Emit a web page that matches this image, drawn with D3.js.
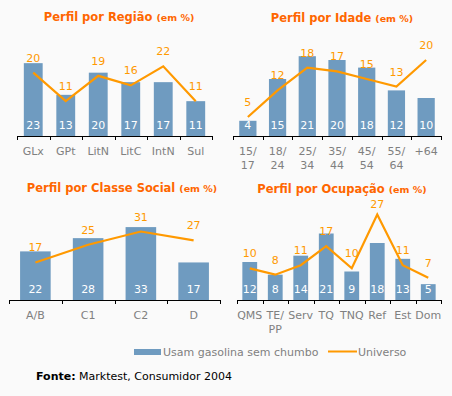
<!DOCTYPE html>
<html>
<head>
<meta charset="utf-8">
<script src="https://cdn.jsdelivr.net/npm/d3@7"></script>
<style>
  body { margin: 0; background: #fafafa; }
  svg { display: block; font-family: "DejaVu Sans", Verdana, sans-serif; }
</style>
</head>
<body>
<svg id="chart" width="452" height="396"></svg>
<script>
// data
var regiaoCats = ['GLx', 'GPt', 'LitN', 'LitC', 'IntN', 'Sul']
var regiaoGasolina = [23, 13, 20, 17, 17, 11]
var regiaoUniverso = [20, 11, 19, 16, 22, 11]

var idadeCats = ['15/\n17', '18/\n24', '25/\n34', '35/\n44', '45/\n54', '55/\n64', '+64']
var idadeGasolina = [4, 15, 21, 20, 18, 12, 10]
var idadeUniverso = [5, 12, 18, 17, 15, 13, 20]

var classeCats = ['A/B', 'C1', 'C2', 'D']
var classeGasolina = [22, 28, 33, 17]
var classeUniverso = [17, 25, 31, 27]

var ocupCats = ['QMS', 'TE/\nPP', 'Serv', 'TQ', 'TNQ', 'Ref', 'Est', 'Dom']
var ocupGasolina = [12, 8, 14, 21, 9, 18, 13, 5]
var ocupUniverso = [10, 8, 11, 17, 10, 27, 11, 7]

var blue = '#6f9bc0', orange = '#ff9900', titleCol = '#ff6600', grey = '#808080'

var svg = d3.select('#chart')

var panels = [
  {title: 'Perfil por Região', cats: regiaoCats, bars: regiaoGasolina, line: regiaoUniverso,
   x0: 17, x1: 212, base: 136, max: 30, tx: 119, ty: 21},
  {title: 'Perfil por Idade', cats: idadeCats, bars: idadeGasolina, line: idadeUniverso,
   x0: 233, x1: 441, base: 136, max: 25, tx: 342, ty: 22},
  {title: 'Perfil por Classe Social', cats: classeCats, bars: classeGasolina, line: classeUniverso,
   x0: 9, x1: 220, base: 300, max: 43, tx: 122, ty: 192},
  {title: 'Perfil por Ocupação', cats: ocupCats, bars: ocupGasolina, line: ocupUniverso,
   x0: 237, x1: 441, base: 300, max: 30, tx: 342, ty: 193}
]

panels.forEach(function(p) {
  var g = svg.append('g')
  var x = d3.scaleBand().domain(p.cats).range([p.x0, p.x1])
  var y = d3.scaleLinear().domain([0, p.max]).range([p.base, p.base - 95])
  var bw = x.bandwidth() * 0.58
  var cx = function(c) { return x(c) + x.bandwidth() / 2 }

  // title
  var t = g.append('text').attr('x', p.tx).attr('y', p.ty)
    .attr('text-anchor', 'middle').attr('fill', titleCol).attr('font-weight', 'bold')
  t.append('tspan').attr('font-size', 11.5).text(p.title + ' ')
  t.append('tspan').attr('font-size', 9.5).text('(em %)')

  // bars
  g.selectAll('rect.bar').data(p.bars).join('rect')
    .attr('x', function(d, i) { return cx(p.cats[i]) - bw / 2 })
    .attr('y', function(d) { return y(d) })
    .attr('width', bw)
    .attr('height', function(d) { return y(0) - y(d) })
    .attr('fill', blue)

  g.selectAll('text.bv').data(p.bars).join('text')
    .attr('x', function(d, i) { return cx(p.cats[i]) })
    .attr('y', p.base - 7)
    .attr('text-anchor', 'middle').attr('font-size', 11).attr('fill', '#fff')
    .text(function(d) { return d })

  // universo line
  var line = d3.line()
    .x(function(d, i) { return cx(p.cats[i]) })
    .y(function(d) { return y(d) })
  g.append('path').attr('d', line(p.line))
    .attr('fill', 'none').attr('stroke', orange).attr('stroke-width', 2.2)

  // labels kept inside the plot area (like the 27 under the ocupação title)
  g.selectAll('text.lv').data(p.line).join('text')
    .attr('x', function(d, i) { return cx(p.cats[i]) })
    .attr('y', function(d) { return Math.max(y(d) - 11, p.base - 92) })
    .attr('text-anchor', 'middle').attr('font-size', 11).attr('fill', orange)
    .text(function(d) { return d })

  // axis with ticks between categories
  g.append('line').attr('x1', p.x0).attr('x2', p.x1)
    .attr('y1', p.base + 0.5).attr('y2', p.base + 0.5).attr('stroke', '#000')
  var edges = p.cats.map(function(c) { return x(c) }).concat([p.x1])
  g.selectAll('line.tk').data(edges).join('line')
    .attr('x1', function(d) { return Math.round(d) + 0.5 }).attr('x2', function(d) { return Math.round(d) + 0.5 })
    .attr('y1', p.base).attr('y2', p.base + 4).attr('stroke', '#000')

  p.cats.forEach(function(c) {
    var lab = g.append('text').attr('text-anchor', 'middle').attr('font-size', 11).attr('fill', grey)
    c.split('\n').forEach(function(s, k) {
      lab.append('tspan').attr('x', cx(c)).attr('y', p.base + 19 + k * 13.5).text(s)
    })
  })
})

// legend
var lg = svg.append('g')
lg.append('rect').attr('x', 134).attr('y', 349).attr('width', 27).attr('height', 6).attr('fill', blue)
lg.append('text').attr('x', 163).attr('y', 355.5).attr('font-size', 11).attr('fill', grey).text('Usam gasolina sem chumbo')
lg.append('line').attr('x1', 328).attr('x2', 357).attr('y1', 351.5).attr('y2', 351.5)
  .attr('stroke', orange).attr('stroke-width', 2)
lg.append('text').attr('x', 358).attr('y', 355.5).attr('font-size', 11).attr('fill', grey).text('Universo')

var f = svg.append('text').attr('x', 36).attr('y', 380).attr('font-size', 11).attr('fill', '#000')
f.append('tspan').attr('font-weight', 'bold').text('Fonte:')
f.append('tspan').text(' Marktest, Consumidor 2004')
</script>
</body>
</html>
